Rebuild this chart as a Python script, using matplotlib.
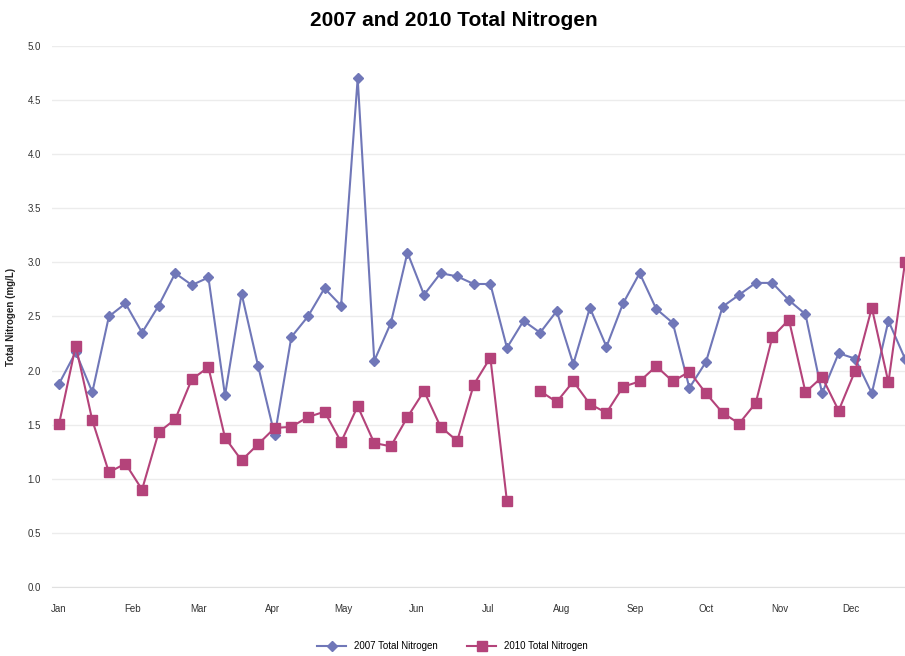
import matplotlib
matplotlib.use('Agg')
import matplotlib.pyplot as plt
import matplotlib.dates as mdates
import numpy as np
import pandas as pd

plt.rcParams['font.family'] = ['Liberation Sans', 'DejaVu Sans']

# weekly sampling dates (plotted on a common calendar year)
dates = pd.date_range('2007-01-01', periods=52, freq='7D')

tn_2007 = [1.88, 2.17, 1.80, 2.50, 2.62, 2.35, 2.60, 2.90, 2.79, 2.86,
           1.77, 2.71, 2.04, 1.40, 2.31, 2.50, 2.76, 2.60, 4.70, 2.09,
           2.44, 3.09, 2.70, 2.90, 2.87, 2.80, 2.80, 2.21, 2.46, 2.35,
           2.55, 2.06, 2.58, 2.22, 2.62, 2.90, 2.57, 2.44, 1.84, 2.08,
           2.59, 2.70, 2.81, 2.81, 2.65, 2.52, 1.79, 2.16, 2.11, 1.79,
           2.46, 2.11]

tn_2010 = [1.51, 2.23, 1.54, 1.06, 1.14, 0.90, 1.43, 1.55, 1.92, 2.03,
           1.38, 1.17, 1.32, 1.47, 1.48, 1.57, 1.62, 1.34, 1.67, 1.33,
           1.30, 1.57, 1.81, 1.48, 1.35, 1.87, 2.12, 0.79, np.nan, 1.81,
           1.71, 1.90, 1.69, 1.61, 1.85, 1.90, 2.04, 1.90, 1.99, 1.79,
           1.61, 1.51, 1.70, 2.31, 2.47, 1.80, 1.94, 1.63, 2.00, 2.58,
           1.89, 3.00]

c2007 = '#7077b8'
c2010 = '#b4437a'

fig = plt.figure(figsize=(9.05, 6.56), dpi=100)
ax = fig.add_axes([0.0575, 0.1052, 0.9425, 0.8248])

ax.plot(dates, tn_2007, '-', color=c2007, lw=1.5, marker='D', ms=5,
        label='2007 Total Nitrogen')
ax.plot(dates, tn_2010, '-', color=c2010, lw=1.5, marker='s', ms=7,
        label='2010 Total Nitrogen')

ax.set_ylim(0, 5.0)
ax.set_yticks(np.arange(0, 5.01, 0.5))
ax.set_yticklabels(['%.1f' % v for v in np.arange(0, 5.01, 0.5)])
ax.set_xlim(pd.Timestamp('2006-12-29'), dates[-1])

ax.xaxis.set_major_locator(mdates.MonthLocator())
ax.xaxis.set_major_formatter(mdates.DateFormatter('%b'))

ax.grid(axis='y', color='#ececec', lw=1)
ax.set_axisbelow(True)
for s in ['top', 'right', 'left']:
    ax.spines[s].set_visible(False)
ax.spines['bottom'].set_color('#e0e0e0')
ax.tick_params(axis='both', length=0, labelsize=7, colors='#333333')
ax.tick_params(axis='x', pad=12)
ax.tick_params(axis='y', pad=8)

ax.set_ylabel('Total Nitrogen (mg/L)', fontsize=7, fontweight='bold',
              color='#222222', labelpad=8)
fig.suptitle('2007 and 2010 Total Nitrogen', fontsize=15, fontweight='bold',
             y=0.983, x=0.502)

fig.legend(loc='lower center', ncol=2, frameon=False, fontsize=7,
           bbox_to_anchor=(0.5, -0.006), handlelength=3, columnspacing=3)

fig.savefig('out.png', dpi=100)
